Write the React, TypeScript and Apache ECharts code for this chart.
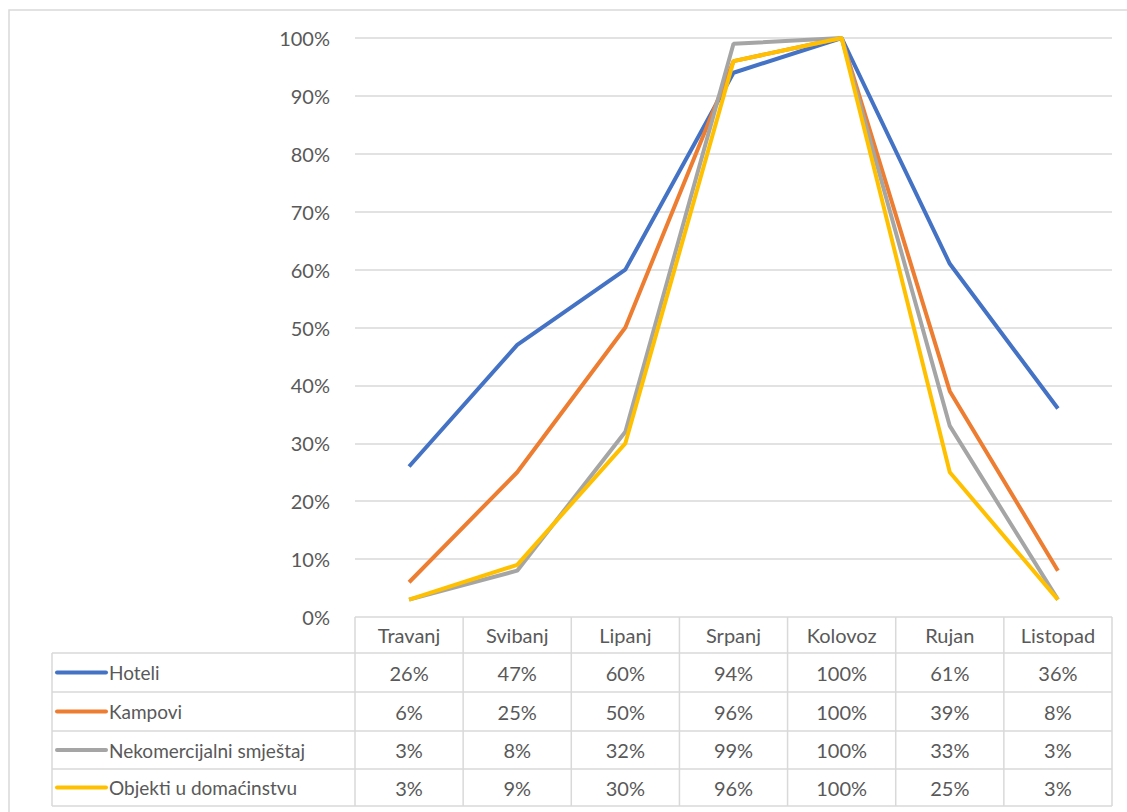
import React, { useEffect, useRef } from "react";
import * as echarts from "echarts";

const categories = ["Travanj", "Svibanj", "Lipanj", "Srpanj", "Kolovoz", "Rujan", "Listopad"];
const seriesNames = ["Hoteli", "Kampovi", "Nekomercijalni smještaj", "Objekti u domaćinstvu"];
const hoteli = [26, 47, 60, 94, 100, 61, 36];
const kampovi = [6, 25, 50, 96, 100, 39, 8];
const nekomercijalni = [3, 8, 32, 99, 100, 33, 3];
const objekti = [3, 9, 30, 96, 100, 25, 3];

const colors = ["#4472C4", "#ED7D31", "#A5A5A5", "#FFC000"];
const allData = [hoteli, kampovi, nekomercijalni, objekti];

const FONT = "Lato, 'Noto Sans', sans-serif";
const TXT = "#595959";
const BORDER = "#d9d9d9";

export default function App() {
  const ref = useRef<HTMLDivElement>(null);
  useEffect(() => {
    if (!ref.current) return;
    const chart = echarts.init(ref.current, null, { renderer: "svg" });
    const gridLeft = 355;
    const gridRight = 15;
    const gridTop = 38;
    const gridBottomY = 617;
    chart.setOption({
      animation: false,
      backgroundColor: "#fff",
      textStyle: { fontFamily: FONT },
      grid: { left: gridLeft, right: gridRight, top: gridTop, bottom: 812 - gridBottomY, containLabel: false },
      xAxis: {
        type: "category",
        data: categories,
        boundaryGap: true,
        axisLine: { show: false },
        axisTick: { show: false },
        axisLabel: { color: TXT, fontSize: 20, fontFamily: FONT, margin: 8 },
      },
      yAxis: {
        type: "value",
        min: 0,
        max: 100,
        interval: 10,
        axisLine: { show: false },
        axisTick: { show: false },
        axisLabel: { color: TXT, fontSize: 20, fontFamily: FONT, margin: 25, formatter: (v: number) => v + "%" },
        splitLine: { lineStyle: { color: BORDER, width: 1.5 } },
      },
      series: allData.map((d, i) => ({
        name: seriesNames[i],
        type: "line",
        data: d,
        symbol: "none",
        lineStyle: { color: colors[i], width: 4 },
        itemStyle: { color: colors[i] },
        z: 2 + i,
      })),
    });

    const rowEdges = [617, 653, 692, 731, 769, 806];
    const tableLeft = 52;
    const tableRight = 1127 - gridRight;
    const colEdges: number[] = [];
    const colCenters: number[] = [];
    categories.forEach((c) => {
      colCenters.push(chart.convertToPixel({ xAxisIndex: 0 }, c) as number);
    });
    const colW = colCenters.length > 1 ? colCenters[1] - colCenters[0] : 108;
    colCenters.forEach((cx) => colEdges.push(cx - colW / 2));
    colEdges.push(colCenters[colCenters.length - 1] + colW / 2);

    const graphics: any[] = [];
    graphics.push({
      type: "rect",
      shape: { x: 9, y: 10, width: 1200, height: 900 },
      style: { fill: "none", stroke: BORDER, lineWidth: 1.5 },
      silent: true,
      z: 0,
    });
    for (let r = 1; r < rowEdges.length; r++) {
      graphics.push({
        type: "line",
        shape: { x1: tableLeft, y1: rowEdges[r], x2: tableRight, y2: rowEdges[r] },
        style: { stroke: BORDER, lineWidth: 1.5 },
        silent: true,
      });
    }
    graphics.push({
      type: "line",
      shape: { x1: tableLeft, y1: rowEdges[1], x2: tableLeft, y2: rowEdges[rowEdges.length - 1] },
      style: { stroke: BORDER, lineWidth: 1.5 },
      silent: true,
    });
    colEdges.forEach((x) => {
      graphics.push({
        type: "line",
        shape: { x1: x, y1: rowEdges[0], x2: x, y2: rowEdges[rowEdges.length - 1] },
        style: { stroke: BORDER, lineWidth: 1.5 },
        silent: true,
      });
    });
    seriesNames.forEach((name, r) => {
      const cy = (rowEdges[r + 1] + rowEdges[r + 2]) / 2;
      graphics.push({
        type: "line",
        shape: { x1: 57, y1: cy, x2: 106, y2: cy },
        style: { stroke: colors[r], lineWidth: 4, lineCap: "round" },
        silent: true,
      });
      graphics.push({
        type: "text",
        x: 109,
        y: cy,
        style: { text: name, fill: TXT, font: `19px ${FONT}`, textAlign: "left", textVerticalAlign: "middle" },
        silent: true,
      });
      allData[r].forEach((v, c) => {
        graphics.push({
          type: "text",
          x: colCenters[c],
          y: cy,
          style: { text: v + "%", fill: TXT, font: `20px ${FONT}`, textAlign: "center", textVerticalAlign: "middle" },
          silent: true,
        });
      });
    });
    chart.setOption({ graphic: graphics });
    return () => chart.dispose();
  }, []);
  return (
    <div
      ref={ref}
      style={{ position: "absolute", left: 0, top: 0, width: 1127, height: 812 }}
    />
  );
}
